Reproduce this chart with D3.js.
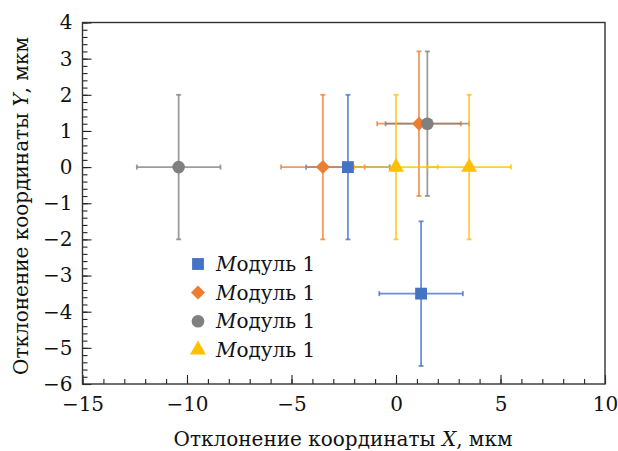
<!doctype html>
<html lang="ru">
  <head>
    <meta charset="UTF-8" />
    <title>Отклонение координат</title>
    <script src="https://cdn.jsdelivr.net/npm/d3@7"></script>
    <style>
      body { margin: 0; background: #fff; }
      svg text { font-family: "DejaVu Serif", serif; fill: #111; }
    </style>
  </head>
  <body>
    <div id="chart"></div>
    <script>
      // data
      const seriesNames = ["Модуль 1", "Модуль 1", "Модуль 1", "Модуль 1"];
      const seriesColors = ["#4472C4", "#ED7D31", "#808080", "#FFC000"];
      const seriesShapes = ["square", "diamond", "circle", "triangle"];
      const xValues = [[-2.3, 1.2], [-3.5, 1.1], [-10.4, 1.5], [0, 3.5]];
      const yValues = [[0, -3.5], [0, 1.2], [0, 1.2], [0, 0]];
      const xErrors = [2, 2, 2, 2];
      const yErrors = [2, 2, 2, 2];
      const xTicks = [-15, -10, -5, 0, 5, 10];
      const yTicks = [-6, -5, -4, -3, -2, -1, 0, 1, 2, 3, 4];

      const width = 618;
      const height = 451;
      const marginLeft = 82.5;
      const marginRight = 13;
      const marginTop = 22.5;
      const marginBottom = 67;
      const font = "DejaVu Serif";

      const x = d3.scaleLinear().domain([-15, 10]).range([marginLeft, width - marginRight]);
      const y = d3.scaleLinear().domain([-6, 4]).range([height - marginBottom, marginTop]);

      const svg = d3.select("#chart").append("svg")
        .attr("width", width)
        .attr("height", height);

      const fmt = (d) => (d < 0 ? "\u2212" + Math.abs(d) : String(d));

      // minor ticks
      const xMinor = d3.range(-15, 10.01, 1);
      const yMinor = d3.range(-6, 4.01, 0.2);

      svg.append("g")
        .attr("transform", `translate(0,${height - marginBottom})`)
        .call(d3.axisBottom(x).tickValues(xMinor).tickSize(-5).tickFormat(""))
        .call((g) => g.select(".domain").remove())
        .selectAll("line").attr("stroke", "#222").attr("stroke-width", 1.1);

      svg.append("g")
        .attr("transform", `translate(${marginLeft},0)`)
        .call(d3.axisLeft(y).tickValues(yMinor).tickSize(-5).tickFormat(""))
        .call((g) => g.select(".domain").remove())
        .selectAll("line").attr("stroke", "#222").attr("stroke-width", 1.1);

      // major ticks
      const xAxis = svg.append("g")
        .attr("transform", `translate(0,${height - marginBottom})`)
        .call(d3.axisBottom(x).tickValues(xTicks).tickSize(-9).tickPadding(13).tickFormat(fmt));
      xAxis.attr("font-family", font);
      xAxis.select(".domain").remove();
      xAxis.selectAll("line").attr("stroke", "#222").attr("stroke-width", 1.1);
      xAxis.selectAll("text").attr("font-size", 20).attr("fill", "#111");

      const yAxis = svg.append("g")
        .attr("transform", `translate(${marginLeft},0)`)
        .call(d3.axisLeft(y).tickValues(yTicks).tickSize(-9).tickPadding(10).tickFormat(fmt));
      yAxis.attr("font-family", font);
      yAxis.select(".domain").remove();
      yAxis.selectAll("line").attr("stroke", "#222").attr("stroke-width", 1.1);
      yAxis.selectAll("text").attr("font-size", 20).attr("fill", "#111");

      // frame
      svg.append("rect")
        .attr("x", marginLeft)
        .attr("y", marginTop)
        .attr("width", width - marginRight - marginLeft)
        .attr("height", height - marginBottom - marginTop)
        .attr("fill", "none")
        .attr("stroke", "#333")
        .attr("stroke-width", 1.4);

      // points
      const points = [];
      seriesNames.forEach((name, s) => {
        xValues[s].forEach((xv, i) => {
          points.push({ s, x: xv, y: yValues[s][i], ex: xErrors[s], ey: yErrors[s] });
        });
      });

      const cap = 2.5;
      const bars = svg.append("g").attr("stroke-width", 1.8).attr("stroke-opacity", 0.78);
      points.forEach((p) => {
        const g = bars.append("g").attr("stroke", seriesColors[p.s]);
        const cx = x(p.x), cy = y(p.y);
        g.append("line").attr("x1", x(p.x - p.ex)).attr("x2", x(p.x + p.ex)).attr("y1", cy).attr("y2", cy);
        g.append("line").attr("x1", cx).attr("x2", cx).attr("y1", y(p.y + p.ey)).attr("y2", y(p.y - p.ey));
        [p.x - p.ex, p.x + p.ex].forEach((v) => {
          g.append("line").attr("x1", x(v)).attr("x2", x(v)).attr("y1", cy - cap).attr("y2", cy + cap);
        });
        [p.y - p.ey, p.y + p.ey].forEach((v) => {
          g.append("line").attr("x1", cx - cap).attr("x2", cx + cap).attr("y1", y(v)).attr("y2", y(v));
        });
      });

      const symbols = {
        square: d3.symbol(d3.symbolSquare, 140),
        diamond: d3.symbol(d3.symbolDiamond2, 125),
        circle: d3.symbol(d3.symbolCircle, 125),
        triangle: d3.symbol(d3.symbolTriangle, 110)
      };

      svg.append("g").selectAll("path")
        .data(points)
        .join("path")
        .attr("transform", (d) => `translate(${x(d.x)},${y(d.y)})`)
        .attr("d", (d) => symbols[seriesShapes[d.s]]())
        .attr("fill", (d) => seriesColors[d.s]);

      // legend
      const legend = svg.append("g");
      seriesNames.forEach((name, s) => {
        const ly = 264 + s * 28.6;
        legend.append("path")
          .attr("transform", `translate(198,${ly})`)
          .attr("d", symbols[seriesShapes[s]]())
          .attr("fill", seriesColors[s]);
        const t = legend.append("text")
          .attr("x", 216)
          .attr("y", ly + 7)
          .attr("font-size", 20);
        t.append("tspan").attr("font-style", "italic").text(name.slice(0, 1));
        t.append("tspan").attr("font-style", "normal").text(name.slice(1));
      });

      // axis titles
      const xTitle = svg.append("text")
        .attr("x", 343)
        .attr("y", 446)
        .attr("text-anchor", "middle")
        .attr("font-size", 20);
      xTitle.append("tspan").text("Отклонение координаты ");
      xTitle.append("tspan").attr("font-style", "italic").text("X");
      xTitle.append("tspan").text(", мкм");

      const yTitle = svg.append("text")
        .attr("transform", `translate(28,206) rotate(-90)`)
        .attr("text-anchor", "middle")
        .attr("font-size", 20);
      yTitle.append("tspan").text("Отклонение координаты ");
      yTitle.append("tspan").attr("font-style", "italic").text("Y");
      yTitle.append("tspan").text(", мкм");
    </script>
  </body>
</html>
